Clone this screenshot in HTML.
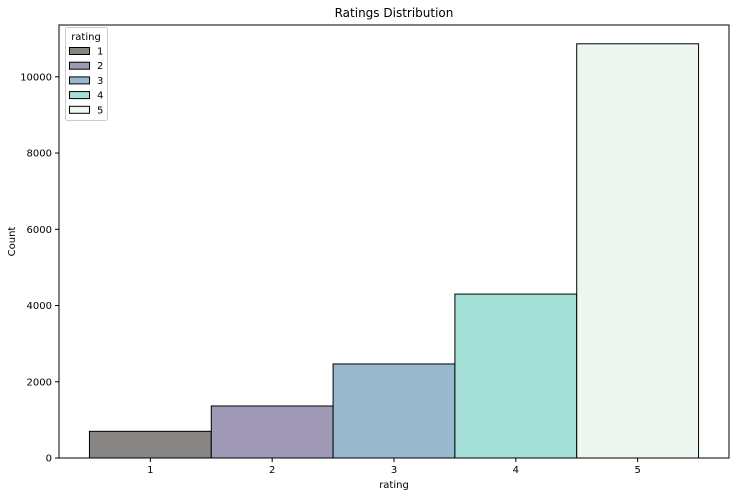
<!DOCTYPE html>
<html><head><meta charset="utf-8"><style>
body{margin:0;background:#fff;}
svg text{font-family:"DejaVu Sans","Liberation Sans",sans-serif;fill:#000;}
</style></head><body>
<svg id="chart" width="736" height="496" xmlns="http://www.w3.org/2000/svg">
<rect width="736" height="496" fill="#fff"/>
<text x="394" y="17" font-size="12" text-anchor="middle">Ratings Distribution</text>
<g id="bars"></g>
<g id="axes"></g>
<g id="legend"></g>
</svg>
<script>
const categories = [1, 2, 3, 4, 5];
const counts = [700, 1365, 2467, 4300, 10866];
const colors = ["#868583", "#9f99b6", "#98b8cd", "#a5e0d6", "#edf7ef"];
const yTicks = [0, 2000, 4000, 6000, 8000, 10000];
const xTicks = [1, 2, 3, 4, 5];

const L = 59, R = 729, T = 25, B = 458;
const xMin = 0.25, xMax = 5.75;
function xs(v){ return L + (v - xMin) / (xMax - xMin) * (R - L); }
function ys(v){ return B - v * 0.03812; }
const NS = "http://www.w3.org/2000/svg";
function mk(tag, attrs, parent){
  const e = document.createElementNS(NS, tag);
  for (const k in attrs) e.setAttribute(k, attrs[k]);
  parent.appendChild(e);
  return e;
}
const bars = document.getElementById('bars');
categories.forEach((c, i) => {
  const x0 = xs(c - 0.5), x1 = xs(c + 0.5);
  const r = mk('rect', {x: x0, y: ys(counts[i]), width: x1 - x0, height: B - ys(counts[i]), fill: colors[i], stroke: '#000', 'stroke-width': 1}, bars);
  
  
});
const axes = document.getElementById('axes');
const frame = mk('rect', {x: L, y: T, width: R - L, height: B - T, fill: 'none', stroke: '#000', 'stroke-width': 1}, axes);


yTicks.forEach(v => {
  const y = ys(v);
  mk('line', {x1: L - 4, x2: L, y1: y, y2: y, stroke: '#000'}, axes);
  const t = mk('text', {x: L - 7, y: y + 3.5, 'font-size': 10, 'text-anchor': 'end'}, axes);
  t.textContent = v;
  
  
});
xTicks.forEach(v => {
  const x = xs(v);
  mk('line', {x1: x, x2: x, y1: B, y2: B + 4, stroke: '#000'}, axes);
  const t = mk('text', {x: x, y: B + 15, 'font-size': 10, 'text-anchor': 'middle'}, axes);
  t.textContent = v;
  
  
});
const xt = mk('text', {x: (L + R) / 2, y: 488, 'font-size': 10, 'text-anchor': 'middle'}, axes);
xt.textContent = 'rating';


const yt = mk('text', {x: 15, y: (T + B) / 2, 'font-size': 10, 'text-anchor': 'middle', transform: 'rotate(-90 15 ' + (T + B) / 2 + ')'}, axes);
yt.textContent = 'Count';



const lg = document.getElementById('legend');


mk('rect', {x: 65.5, y: 27.5, width: 42, height: 93, rx: 2, fill: '#fff', stroke: '#ccc', 'fill-opacity': 0.8}, lg);
const lt = mk('text', {x: 86, y: 40, 'font-size': 10, 'text-anchor': 'middle'}, lg);
lt.textContent = 'rating';
categories.forEach((c, i) => {
  const y = 51 + i * 14.7;
  const g = mk('g', {}, lg);
  
  
  mk('rect', {x: 69.5, y: y - 3.5, width: 20, height: 7, fill: colors[i], stroke: '#000'}, g);
  const t = mk('text', {x: 97, y: y + 3.5, 'font-size': 10}, g);
  t.textContent = c;
});
</script>
</body></html>
